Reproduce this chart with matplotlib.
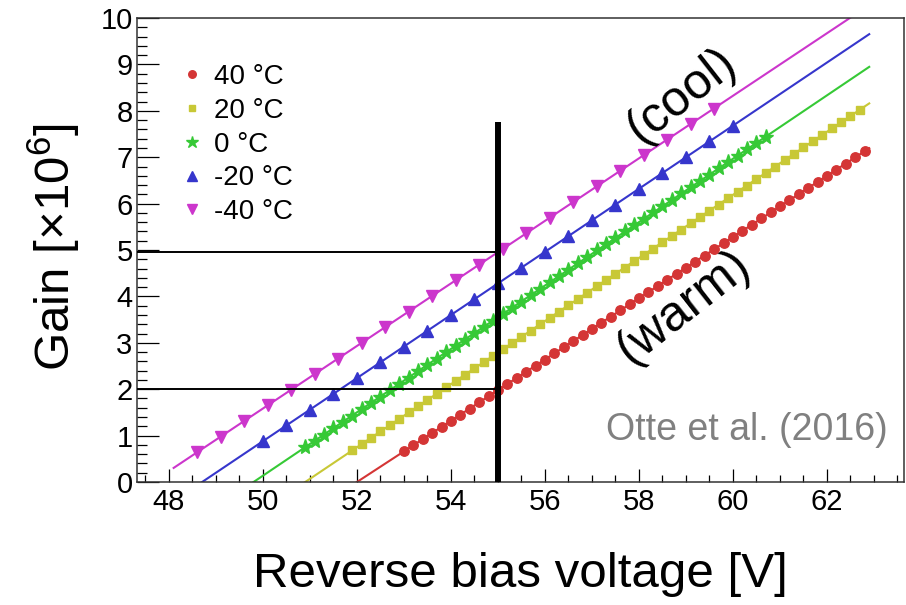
import numpy as np
import matplotlib
matplotlib.use("Agg")
from matplotlib import pyplot as plt
from matplotlib.ticker import MultipleLocator

plt.rcParams['font.family'] = ['Liberation Sans', 'DejaVu Sans']
plt.rcParams['mathtext.default'] = 'regular'

# gain vs. reverse bias voltage for five temperatures
labels = ["40 °C", "20 °C", "0 °C", "-20 °C", "-40 °C"]
colors = ["#d43535", "#c8c836", "#36c936", "#3636cc", "#cc36cc"]
markers = ["o", "s", "*", "^", "v"]
msizes = [6.8, 5.5, 11, 8.5, 8.5]

v_40 = [53.0, 53.2, 53.4, 53.6, 53.8, 54.0, 54.2, 54.4, 54.6, 54.8,
        55.0, 55.2, 55.4, 55.6, 55.8, 56.0, 56.2, 56.4, 56.6, 56.8,
        57.0, 57.2, 57.4, 57.6, 57.8, 58.0, 58.2, 58.4, 58.6, 58.8,
        59.0, 59.2, 59.4, 59.6, 59.8, 60.0, 60.2, 60.4, 60.6, 60.8,
        61.0, 61.2, 61.4, 61.6, 61.8, 62.0, 62.2, 62.4, 62.6, 62.8]
g_40 = [0.66, 0.79, 0.92, 1.06, 1.19, 1.32, 1.45, 1.58, 1.72, 1.85,
        1.98, 2.11, 2.24, 2.38, 2.51, 2.64, 2.77, 2.90, 3.04, 3.17,
        3.30, 3.43, 3.56, 3.70, 3.83, 3.96, 4.09, 4.22, 4.36, 4.49,
        4.62, 4.75, 4.88, 5.02, 5.15, 5.28, 5.41, 5.54, 5.68, 5.81,
        5.94, 6.07, 6.20, 6.34, 6.47, 6.60, 6.73, 6.86, 7.00, 7.13]

v_20 = [51.9, 52.1, 52.3, 52.5, 52.7, 52.9, 53.1, 53.3, 53.5, 53.7,
        53.9, 54.1, 54.3, 54.5, 54.7, 54.9, 55.1, 55.3, 55.5, 55.7,
        55.9, 56.1, 56.3, 56.5, 56.7, 56.9, 57.1, 57.3, 57.5, 57.7,
        57.9, 58.1, 58.3, 58.5, 58.7, 58.9, 59.1, 59.3, 59.5, 59.7,
        59.9, 60.1, 60.3, 60.5, 60.7, 60.9, 61.1, 61.3, 61.5, 61.7,
        61.9, 62.1, 62.3, 62.5, 62.7]
g_20 = [0.68, 0.82, 0.95, 1.09, 1.22, 1.36, 1.50, 1.63, 1.77, 1.90,
        2.04, 2.18, 2.31, 2.45, 2.58, 2.72, 2.86, 2.99, 3.13, 3.26,
        3.40, 3.54, 3.67, 3.81, 3.94, 4.08, 4.22, 4.35, 4.49, 4.62,
        4.76, 4.90, 5.03, 5.17, 5.30, 5.44, 5.58, 5.71, 5.85, 5.98,
        6.12, 6.26, 6.39, 6.53, 6.66, 6.80, 6.94, 7.07, 7.21, 7.34,
        7.48, 7.62, 7.75, 7.89, 8.02]

v_0 = [50.9, 51.1, 51.3, 51.5, 51.7, 51.9, 52.1, 52.3, 52.5, 52.7,
       52.9, 53.1, 53.3, 53.5, 53.7, 53.9, 54.1, 54.3, 54.5, 54.7,
       54.9, 55.1, 55.3, 55.5, 55.7, 55.9, 56.1, 56.3, 56.5, 56.7,
       56.9, 57.1, 57.3, 57.5, 57.7, 57.9, 58.1, 58.3, 58.5, 58.7,
       58.9, 59.1, 59.3, 59.5, 59.7, 59.9, 60.1, 60.3, 60.5, 60.7]
g_0 = [0.75, 0.89, 1.02, 1.16, 1.30, 1.43, 1.57, 1.71, 1.84, 1.98,
       2.12, 2.25, 2.39, 2.53, 2.66, 2.80, 2.94, 3.07, 3.21, 3.35,
       3.48, 3.62, 3.76, 3.89, 4.03, 4.17, 4.30, 4.44, 4.58, 4.71,
       4.85, 4.99, 5.12, 5.26, 5.40, 5.53, 5.67, 5.81, 5.94, 6.08,
       6.22, 6.35, 6.49, 6.62, 6.76, 6.90, 7.03, 7.17, 7.31, 7.44]

v_m20 = [50.0, 50.5, 51.0, 51.5, 52.0, 52.5, 53.0, 53.5, 54.0, 54.5, 55.0,
         55.5, 56.0, 56.5, 57.0, 57.5, 58.0, 58.5, 59.0, 59.5, 60.0]
g_m20 = [0.88, 1.22, 1.56, 1.90, 2.24, 2.58, 2.92, 3.26, 3.60, 3.94, 4.28,
         4.62, 4.96, 5.30, 5.64, 5.98, 6.32, 6.66, 7.00, 7.34, 7.68]

v_m40 = [48.6, 49.1, 49.6, 50.1, 50.6, 51.1, 51.6, 52.1, 52.6, 53.1, 53.6, 54.1,
         54.6, 55.1, 55.6, 56.1, 56.6, 57.1, 57.6, 58.1, 58.6, 59.1, 59.6]
g_m40 = [0.64, 0.98, 1.31, 1.65, 1.99, 2.33, 2.66, 3.00, 3.34, 3.67, 4.01, 4.35,
         4.68, 5.02, 5.36, 5.70, 6.03, 6.37, 6.71, 7.04, 7.38, 7.72, 8.05]

volts = [v_40, v_20, v_0, v_m20, v_m40]
gains = [g_40, g_20, g_0, g_m20, g_m40]

fit_range = (48.1, 62.9)       # range over which the linear fits are drawn
v_op = 55.0                    # operating voltage marker
v_op_top = 7.75
gain_levels = [2.0, 4.95]

xmin, xmax = 47.32, 63.64

fig = plt.figure(figsize=(9.06, 6.05), dpi=100)
ax = fig.add_axes([0.1512, 0.2033, 0.8466, 0.7669])

vv = np.linspace(fit_range[0], fit_range[1], 200)
for v, g, c in zip(volts, gains, colors):
    p = np.polyfit(v, g, 1)
    ax.plot(vv, np.polyval(p, vv), color=c, lw=1.5, zorder=2)
for v, g, c, m, s, lab in zip(volts, gains, colors, markers, msizes, labels):
    ax.plot(v, g, ls="none", marker=m, ms=s, color=c, mec=c, label=lab, zorder=3)

# operating point lines
ax.vlines(v_op, 0, v_op_top, color="black", lw=4.3, zorder=4)
ax.hlines(gain_levels, xmin, v_op, color="black", lw=1.4, zorder=4)

ax.set_xlim(xmin, xmax)
ax.set_ylim(0, 10)
ax.xaxis.set_major_locator(MultipleLocator(2))
ax.xaxis.set_minor_locator(MultipleLocator(0.5))
ax.yaxis.set_major_locator(MultipleLocator(1))
ax.yaxis.set_minor_locator(MultipleLocator(0.2))
ax.tick_params(axis="x", which="major", direction="in", length=9.4, width=0.9,
               labelsize=21, pad=4, top=False)
ax.tick_params(axis="x", which="minor", direction="in", length=4.7, width=0.9, top=False)
ax.tick_params(axis="y", which="major", direction="in", length=15.6, width=0.9,
               labelsize=21, pad=3.2, right=False)
ax.tick_params(axis="y", which="minor", direction="in", length=7.2, width=0.9, right=False)
for sp in ax.spines.values():
    sp.set_color("#333333")
    sp.set_linewidth(1.1)

ax.set_xlabel("Reverse bias voltage [V]", fontsize=35.5)
ax.xaxis.set_label_coords(0.5, -0.227)
ax.xaxis.label.set_verticalalignment("baseline")
ax.set_ylabel("Gain [×10$^{6}$]", fontsize=35.5)
ax.yaxis.set_label_coords(-0.0874, 0.506)
ax.yaxis.label.set_verticalalignment("baseline")

ax.text(58.91, 8.34, "(cool)", fontsize=36, rotation=38, ha="center", va="center")
ax.text(58.96, 3.77, "(warm)", fontsize=36, rotation=38, ha="center", va="center")
ax.text(0.979, 0.112, "Otte et al. (2016)", transform=ax.transAxes, fontsize=27,
        color="#808080", ha="right", va="center")

ax.legend(loc="upper left", bbox_to_anchor=(182 / 906, 1 - 64 / 605),
          bbox_transform=fig.transFigure, frameon=False, fontsize=20,
          handlelength=0.75, handletextpad=0.4, labelspacing=0.28,
          borderpad=0, borderaxespad=0, markerscale=0.8)

fig.savefig("out.png", dpi=100)
